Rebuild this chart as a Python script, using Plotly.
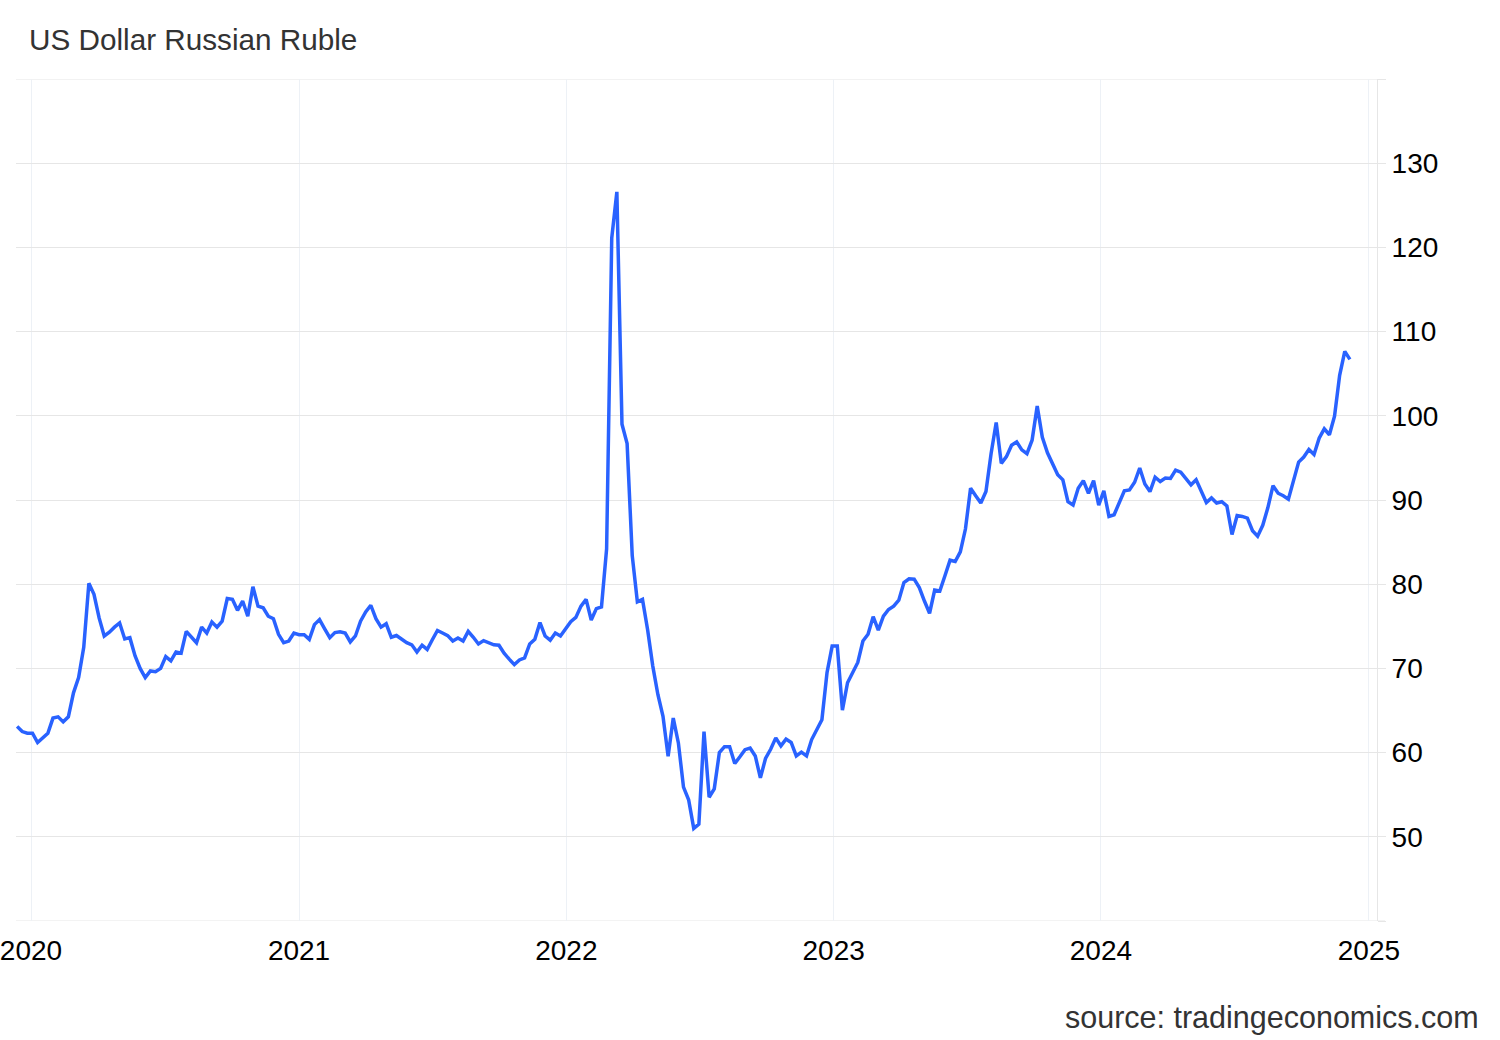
import pandas as pd
import plotly.graph_objects as go

# Weekly USD/RUB closes (Fridays)
start_date = "2019-12-13"
usdrub = [
    63.1, 62.5, 62.3, 62.3, 61.2, 61.75, 62.3, 64.1, 64.25, 63.65,
    64.25, 67.1, 68.9, 72.5, 80.1, 78.8, 76.0, 73.85, 74.3, 74.9,
    75.4, 73.5, 73.65, 71.5, 70.0, 68.9, 69.7, 69.6, 70.0, 71.4,
    70.9, 71.95, 71.8, 74.4, 73.7, 73.05, 74.9, 74.2, 75.5, 74.9,
    75.6, 78.3, 78.2, 76.9, 78.0, 76.2, 79.7, 77.4, 77.2, 76.2,
    75.9, 74.05, 73.05, 73.25, 74.2, 74.0, 74.0, 73.45, 75.2, 75.8,
    74.7, 73.65, 74.25, 74.35, 74.2, 73.15, 73.85, 75.6, 76.7, 77.5,
    75.9, 74.9, 75.3, 73.7, 73.9, 73.45, 73.05, 72.8, 71.95, 72.75,
    72.25, 73.4, 74.5, 74.2, 73.9, 73.25, 73.6, 73.25, 74.4, 73.7,
    72.9, 73.3, 73.0, 72.8, 72.75, 71.8, 71.1, 70.45, 71.0, 71.25,
    72.9, 73.45, 75.45, 73.85, 73.35, 74.2, 73.85, 74.75, 75.55, 76.05,
    77.4, 78.2, 75.75, 77.1, 77.3, 84.2, 121.1, 126.6, 99.0, 96.7,
    83.4, 77.9, 78.2, 74.6, 70.3, 66.9, 64.3, 59.55, 64.1, 61.15,
    55.9, 54.4, 51.0, 51.5, 62.5, 54.7, 55.7, 60.0, 60.7, 60.7,
    58.7, 59.5, 60.35, 60.55, 59.6, 57.0, 59.3, 60.4, 61.75, 60.8,
    61.6, 61.2, 59.6, 60.05, 59.6, 61.55, 62.75, 63.9, 69.5, 72.65,
    72.65, 65.05, 68.3, 69.5, 70.7, 73.25, 74.05, 76.15, 74.55, 76.2,
    77.0, 77.4, 78.1, 80.2, 80.65, 80.6, 79.6, 78.0, 76.55, 79.3,
    79.2, 81.0, 82.85, 82.7, 83.85, 86.55, 91.4, 90.5, 89.65, 91.0,
    95.5, 99.2, 94.35, 95.15, 96.5, 96.9, 95.95, 95.5, 97.1, 101.15,
    97.45, 95.6, 94.2, 93.0, 92.4, 89.8, 89.4, 91.4, 92.3, 90.8,
    92.3, 89.4, 91.1, 88.05, 88.25, 89.7, 91.1, 91.2, 92.1, 93.8,
    91.9, 91.0, 92.7, 92.2, 92.6, 92.55, 93.55, 93.3, 92.55, 91.8,
    92.4, 91.1, 89.7, 90.25, 89.65, 89.8, 89.3, 85.9, 88.15, 88.05,
    87.85, 86.35, 85.7, 87.0, 89.1, 91.7, 90.8, 90.5, 90.1, 92.3,
    94.5, 95.1, 96.0, 95.4, 97.35, 98.45, 97.75, 99.95, 104.8, 107.65,
    106.7,
]
dates = pd.date_range(start=start_date, periods=len(usdrub), freq="7D")

year_ticks = ["2020-01-01", "2021-01-01", "2022-01-01", "2023-01-01", "2024-01-01", "2025-01-01"]
year_labels = ["2020", "2021", "2022", "2023", "2024", "2025"]
y_ticks = [40, 50, 60, 70, 80, 90, 100, 110, 120, 130, 140]
y_labels = ["", "50", "60", "70", "80", "90", "100", "110", "120", "130", ""]
y_min, y_max = 40, 140

FONT = "Liberation Sans, Arial, Helvetica, sans-serif"
GRID = "#e6e6e6"

fig = go.Figure()
fig.add_trace(go.Scatter(
    x=dates, y=usdrub, mode="lines",
    line=dict(color="#2962FF", width=3.5),
    hoverinfo="x+y", showlegend=False,
))

# edge gridlines (bottom and top) that extend under the right-side ticks
tick_ext = 1 + 8 / 1361
shapes = [
    dict(type="line", xref="paper", yref="y", x0=0, x1=tick_ext, y0=v, y1=v,
         line=dict(color=GRID, width=1), layer="below")
    for v in (y_min, y_max)
]

fig.update_layout(
    width=1500, height=1040,
    margin=dict(l=16, r=123, t=79, b=119, autoexpand=False),
    paper_bgcolor="white", plot_bgcolor="white",
    font=dict(family=FONT, color="#000000", size=28),
    title=dict(
        text="US Dollar Russian Ruble",
        x=29 / 1500, xanchor="left", xref="container",
        y=1 - 40 / 1040, yanchor="middle", yref="container",
        font=dict(family=FONT, size=29.7, color="#333333"),
    ),
    xaxis=dict(
        type="date",
        range=["2019-12-11 12:00", "2025-01-12 00:00"],
        tickvals=year_ticks, ticktext=year_labels,
        showgrid=True, gridcolor="#edf1f6", gridwidth=1,
        zeroline=False, showline=False, ticks="",
        ticklabelstandoff=10, ticklabeloverflow="allow",
        automargin=False,
        tickfont=dict(size=28, color="#000000"),
    ),
    yaxis=dict(
        side="right",
        range=[y_min, y_max],
        tickvals=y_ticks, ticktext=y_labels,
        showgrid=True, gridcolor=GRID, gridwidth=1,
        zeroline=False, automargin=False,
        showline=True, linecolor=GRID, linewidth=1,
        ticks="outside", ticklen=8, tickcolor=GRID, tickwidth=1,
        tickfont=dict(size=28, color="#000000"),
    ),
    shapes=shapes,
    annotations=[dict(
        text="source: tradingeconomics.com",
        xref="paper", yref="paper",
        x=(1481 - 16) / 1361, xanchor="right",
        y=(921 - 1017) / 842, yanchor="middle",
        showarrow=False,
        font=dict(family=FONT, size=30.5, color="#333333"),
    )],
)

fig.write_html(
    "out.html",
    config={"displayModeBar": False},
    post_script="document.body.style.margin='0';document.body.style.padding='0';",
)
